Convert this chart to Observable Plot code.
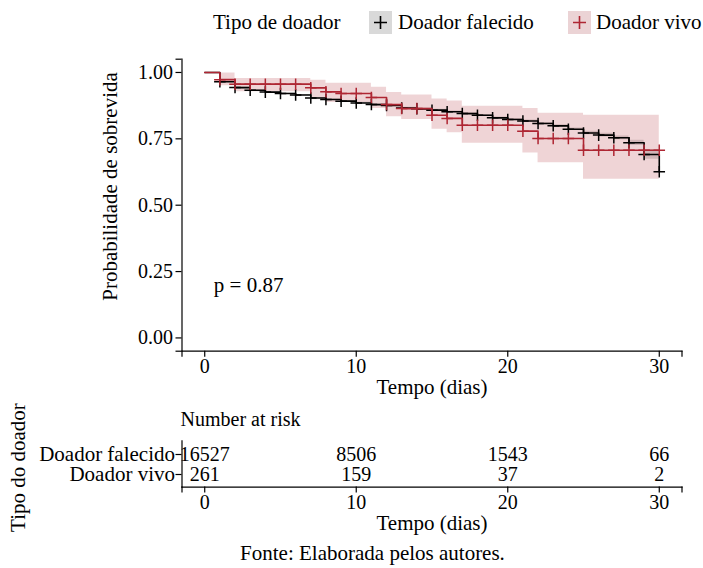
<!DOCTYPE html>
<html><head><meta charset="utf-8">
<script src="https://cdn.jsdelivr.net/npm/d3@7"></script>
<script src="https://cdn.jsdelivr.net/npm/@observablehq/plot@0.6"></script>
<style>
body{margin:0;background:#fff;}
#wrap{position:relative;width:703px;height:568px;font-family:"Liberation Serif","Times New Roman",serif;color:#000;overflow:hidden;background:#fff;}
#wrap .abs{position:absolute;white-space:nowrap;font-size:21px;line-height:24px;}
#wrap svg.plt{position:absolute;left:0;}
</style></head><body><div id="wrap"></div>
<script>
// ---------------- data ----------------
const groups = ["Doador falecido", "Doador vivo"];
const legendTitle = "Tipo de doador";

const timesFalecido = [0,1,2,3,4,5,6,7,8,9,10,11,12,13,14,15,16,17,18,19,20,21,22,23,24,25,26,27,28,29,30];
const survFalecido  = [1.000,0.965,0.943,0.933,0.926,0.921,0.915,0.904,0.898,0.892,0.885,0.879,0.876,0.866,0.863,0.858,0.852,0.845,0.839,0.829,0.823,0.817,0.808,0.799,0.786,0.772,0.764,0.754,0.735,0.691,0.626];
const lowerFalecido = [1.000,0.963,0.941,0.931,0.924,0.919,0.913,0.902,0.896,0.890,0.882,0.876,0.873,0.863,0.860,0.855,0.849,0.842,0.836,0.826,0.819,0.813,0.804,0.795,0.781,0.765,0.757,0.747,0.725,0.673,0.600];
const upperFalecido = [1.000,0.967,0.945,0.935,0.928,0.923,0.917,0.906,0.900,0.894,0.888,0.882,0.879,0.869,0.866,0.861,0.855,0.848,0.842,0.832,0.827,0.821,0.812,0.803,0.791,0.779,0.771,0.761,0.745,0.709,0.652];
const censorFalecido = [1,2,3,4,5,6,7,8,9,10,11,12,13,14,15,16,17,18,19,20,21,22,23,24,25,26,27,28,29,30];

const timesVivo = [0,1,2,7,8,9,11,12,13,15,16,17,21,22,25,30];
const survVivo  = [1.000,0.973,0.956,0.942,0.927,0.921,0.906,0.879,0.864,0.839,0.827,0.801,0.779,0.751,0.707,0.707];
const lowerVivo = [1.000,0.950,0.927,0.897,0.887,0.887,0.864,0.833,0.823,0.786,0.773,0.733,0.697,0.660,0.598,0.598];
const upperVivo = [1.000,0.998,0.977,0.971,0.959,0.959,0.944,0.925,0.915,0.900,0.893,0.873,0.864,0.846,0.839,0.839];
const censorVivo = [1,2,3,4,5,6,7,8,9,10,11,12,13,14,15,16,17,18,19,20,21,22,23,24,25,26,27,28,29,30];

const riskTimes = [0,10,20,30];
const riskFalecido = [16527,8506,1543,66];
const riskVivo = [261,159,37,2];

const xTicks = [0,10,20,30];
const yTicks = [0,0.25,0.5,0.75,1];
const pValueLabel = "p = 0.87";
const xTitle = "Tempo (dias)";
const yTitle = "Probabilidade de sobrevida";
const riskTitle = "Number at risk";
const riskYTitle = "Tipo do doador";
const caption = "Fonte: Elaborada pelos autores.";

// ---------------- build ----------------
const colBlack = "#000000";
const colRed = "#AE2633";
const FONT = "'Liberation Serif', 'Times New Roman', serif";
const FS = 20;   // numbers
const FT = 21;   // words
const xDomain = [-1.5, 31.5];
const yDomain = [-0.05, 1.05];

function rows(times, s, lo, hi) {
  return times.map((t, i) => ({t, s: s[i], lo: lo[i], hi: hi[i]}));
}
function stepAt(times, s, t) {
  const i = d3.bisectRight(times, t) - 1;
  return s[Math.max(0, i)];
}
const fal = rows(timesFalecido, survFalecido, lowerFalecido, upperFalecido);
const viv = rows(timesVivo, survVivo, lowerVivo, upperVivo);
const cenFal = censorFalecido.map(t => ({t, s: stepAt(timesFalecido, survFalecido, t)}));
const cenViv = censorVivo.map(t => ({t, s: stepAt(timesVivo, survVivo, t)}));

const wrap = document.getElementById("wrap");
const baseStyle = {fontFamily: FONT, fontSize: FS + "px", color: "#000", background: "transparent", overflow: "visible"};

const xAxisOpts = {
  ticks: [xDomain[0], ...xTicks, xDomain[1]],
  tickFormat: d => xTicks.includes(d) ? String(d) : "",
  tickSize: 6, tickPadding: 2, label: null, strokeWidth: 1.2
};

const main = Plot.plot({
  width: 703, height: 355,
  marginLeft: 181.5, marginRight: 21.5, marginTop: 13.7, marginBottom: 49.3,
  style: baseStyle,
  x: {domain: xDomain},
  y: {domain: yDomain},
  marks: [
    Plot.areaY(fal, {x: "t", y1: "lo", y2: "hi", curve: "step-after", fill: colBlack, fillOpacity: 0.15}),
    Plot.areaY(viv, {x: "t", y1: "lo", y2: "hi", curve: "step-after", fill: colRed, fillOpacity: 0.2}),
    Plot.line(fal, {x: "t", y: "s", curve: "step-after", stroke: colBlack, strokeWidth: 1.6}),
    Plot.dot(cenFal, {x: "t", y: "s", symbol: "plus", r: 3.8, stroke: colBlack, strokeWidth: 1.5}),
    Plot.line(viv, {x: "t", y: "s", curve: "step-after", stroke: colRed, strokeWidth: 1.6}),
    Plot.dot(cenViv, {x: "t", y: "s", symbol: "plus", r: 3.8, stroke: colRed, strokeWidth: 1.5}),
    Plot.axisX(xAxisOpts),
    Plot.axisY({
      ticks: [yDomain[0], ...yTicks, yDomain[1]],
      tickFormat: d => yTicks.includes(d) ? d.toFixed(2) : "",
      tickSize: 6, tickPadding: 3, label: null, strokeWidth: 1.2
    }),
    Plot.frame({anchor: "bottom", strokeWidth: 1.2}),
    Plot.frame({anchor: "left", strokeWidth: 1.2}),
    Plot.text([xTitle], {frameAnchor: "bottom", textAnchor: "middle", lineAnchor: "middle", dy: 36.5, fontSize: FT}),
    Plot.text([yTitle], {frameAnchor: "left", textAnchor: "middle", lineAnchor: "middle", rotate: -90, dx: -71.5, dy: -18.7, fontSize: FT}),
    Plot.text([{label: pValueLabel, t: 0.6, s: 0.2}], {x: "t", y: "s", text: "label", textAnchor: "start", fontSize: FT})
  ]
});
main.classList.add("plt");
main.style.top = "45px";
wrap.appendChild(main);

const riskData = [
  ...riskTimes.map((t, i) => ({t, g: groups[0], n: riskFalecido[i]})),
  ...riskTimes.map((t, i) => ({t, g: groups[1], n: riskVivo[i]}))
];

const risk = Plot.plot({
  width: 703, height: 140,
  marginLeft: 181.5, marginRight: 21.5, marginTop: 40.4, marginBottom: 53.4,
  style: baseStyle,
  x: {domain: xDomain},
  y: {type: "point", domain: groups, padding: 0.6},
  marks: [
    Plot.text(riskData, {x: "t", y: "g", text: d => String(d.n)}),
    Plot.axisX(xAxisOpts),
    Plot.axisY({tickSize: 6, tickPadding: 1, label: null, strokeWidth: 1.2, fontSize: FT}),
    Plot.frame({anchor: "bottom", strokeWidth: 1.2}),
    Plot.frame({anchor: "left", strokeWidth: 1.2}),
    Plot.text([riskTitle], {frameAnchor: "top-left", textAnchor: "start", lineAnchor: "middle", dx: -1.5, dy: -21}),
    Plot.text([xTitle], {frameAnchor: "bottom", textAnchor: "middle", lineAnchor: "middle", dy: 36.5, fontSize: FT}),
    Plot.text([riskYTitle], {frameAnchor: "left", textAnchor: "middle", lineAnchor: "middle", rotate: -90, dx: -163.5, dy: 3.5, fontSize: FT})
  ]
});
risk.classList.add("plt");
risk.style.top = "400px";
wrap.appendChild(risk);

// legend (HTML)
function addText(txt, left, top) {
  const d = document.createElement("div");
  d.className = "abs"; d.textContent = txt;
  d.style.left = left + "px"; d.style.top = top + "px";
  wrap.appendChild(d);
  return d;
}
function addSwatch(left, top, bg, stroke) {
  const ns = "http://www.w3.org/2000/svg";
  const s = document.createElementNS(ns, "svg");
  s.setAttribute("width", 23); s.setAttribute("height", 23);
  s.style.position = "absolute"; s.style.left = left + "px"; s.style.top = top + "px";
  const r = document.createElementNS(ns, "rect");
  r.setAttribute("width", 23); r.setAttribute("height", 23); r.setAttribute("fill", bg);
  const p = document.createElementNS(ns, "path");
  p.setAttribute("d", "M5,11.5H18M11.5,5V18");
  p.setAttribute("stroke", stroke); p.setAttribute("stroke-width", 1.6); p.setAttribute("fill", "none");
  s.appendChild(r); s.appendChild(p);
  wrap.appendChild(s);
}
addText(legendTitle, 213, 10);
addSwatch(369, 11, "#D9D9D9", colBlack);
addText(groups[0], 398, 10);
addSwatch(568, 11, "#EBD3D5", colRed);
addText(groups[1], 596, 10);

const cap = addText(caption, 0, 541);
cap.style.left = "0px"; cap.style.width = "745px"; cap.style.textAlign = "center";
</script></body></html>
